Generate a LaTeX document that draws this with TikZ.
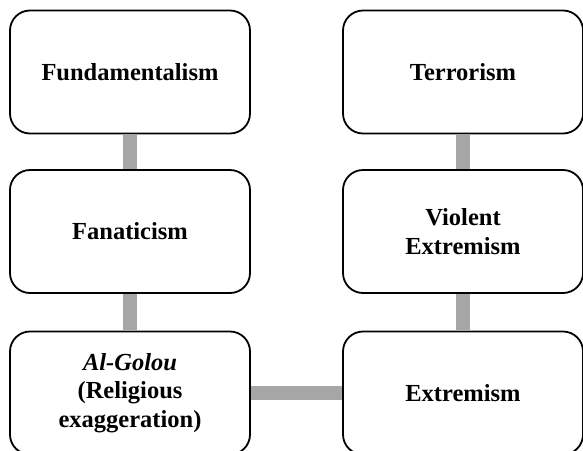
\documentclass[tikz,border=0pt]{standalone}
\usepackage{fontspec}
\setmainfont{Liberation Serif}
\usetikzlibrary{positioning}

\begin{document}
\begin{tikzpicture}[
    x=1pt, y=1pt,
    font=\fontsize{24.5}{28.5}\selectfont\bfseries,
    term/.style={rounded corners=20pt, draw=black, fill=white, line width=1.8pt,
                 align=center, inner sep=4pt, minimum width=240pt, minimum height=123pt},
    bar/.style={draw=black!35, line width=14pt}
]
\useasboundingbox (0,0) rectangle (583,-450);
\clip (0,0) rectangle (583,-450);
\node[term] (fund)  at (130,-72)    {Fundamentalism};
\node[term] (fana)  at (130,-231.5) {Fanaticism};
\node[term] (golou) at (130,-393)   {\textit{Al-Golou}\\(Religious\\exaggeration)};
\node[term] (terr)  at (463,-72)    {Terrorism};
\node[term] (viol)  at (463,-231.5) {Violent\\Extremism};
\node[term] (extr)  at (463,-393)   {Extremism};
\draw[bar] (fund.south) -- (fana.north);
\draw[bar] (fana.south) -- (golou.north);
\draw[bar] (terr.south) -- (viol.north);
\draw[bar] (viol.south) -- (extr.north);
\draw[bar] (golou.east) -- (extr.west);
\end{tikzpicture}
\end{document}
